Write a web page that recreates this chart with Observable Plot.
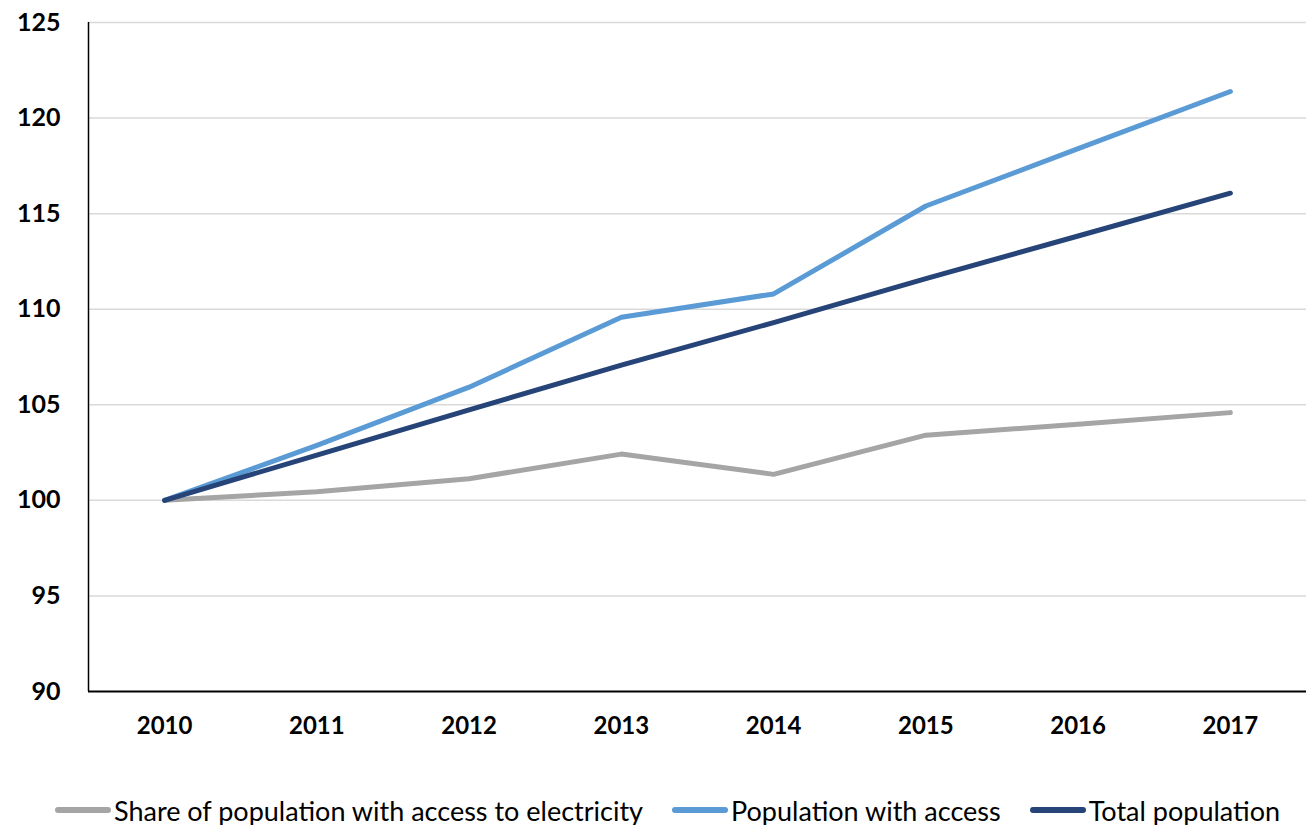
<!DOCTYPE html>
<html>
<head>
<meta charset="utf-8">
<script src="https://cdn.jsdelivr.net/npm/d3@7"></script>
<script src="https://cdn.jsdelivr.net/npm/@observablehq/plot@0.6"></script>
<style>
  html, body { margin: 0; padding: 0; background: #fff; }
  #chart svg { display: block; }
  #chart svg text { font-weight: 700; }
  .legend {
    display: flex; justify-content: flex-start; align-items: center;
    padding-left: 55px; margin-top: 30px; height: 40px; white-space: nowrap;
    font-family: Lato, "Open Sans", sans-serif; font-size: 27px; color: #000;
  }
  .legend .item { display: flex; align-items: center; margin-right: 29px; }
  .legend .swatch { width: 56px; height: 6px; border-radius: 3px; margin-right: 3px; }
</style>
</head>
<body>
<div id="chart"></div>
<script>
// Index, 2010 = 100
const years = [2010, 2011, 2012, 2013, 2014, 2015, 2016, 2017];
const shareWithAccess = [100, 100.45, 101.13, 102.42, 101.36, 103.41, 103.98, 104.59];
const populationWithAccess = [100, 102.88, 105.92, 109.58, 110.8, 115.4, 118.4, 121.39];
const totalPopulation = [100, 102.37, 104.73, 107.08, 109.3, 111.6, 113.83, 116.07];

const seriesNames = [
  "Share of population with access to electricity",
  "Population with access",
  "Total population"
];
const seriesValues = [shareWithAccess, populationWithAccess, totalPopulation];
const seriesColors = ["#a5a5a5", "#5b9bd5", "#264478"];
const yTicks = [90, 95, 100, 105, 110, 115, 120, 125];

const lineMarks = seriesValues.map((vals, i) =>
  Plot.line(years.map((yr, j) => ({year: yr, value: vals[j]})), {
    x: "year", y: "value",
    stroke: seriesColors[i], strokeWidth: 5,
    strokeLinecap: "round", strokeLinejoin: "round"
  })
);

const chart = Plot.plot({
  width: 1309,
  height: 760,
  marginLeft: 88,
  marginRight: 3,
  marginTop: 22,
  marginBottom: 69,
  style: {fontFamily: "Lato, 'Open Sans', sans-serif", fontSize: "24px", color: "#000", background: "#fff"},
  x: {domain: [2009.5, 2017.5]},
  y: {domain: [90, 125]},
  marks: [
    Plot.ruleY(yTicks.filter(v => v > 90), {stroke: "#d9d9d9", strokeWidth: 1.5}),
    Plot.axisY({ticks: yTicks, tickSize: 0, tickPadding: 28, label: null, fontSize: 25}),
    Plot.axisX({ticks: years, tickFormat: d => String(d), tickSize: 0, tickPadding: 25, label: null, fontSize: 24}),
    Plot.ruleY([90], {stroke: "#000", strokeWidth: 2}),
    Plot.ruleX([2009.5], {stroke: "#000", strokeWidth: 1.5}),
    ...lineMarks
  ]
});
document.getElementById("chart").appendChild(chart);

// Legend below the plot
const legend = document.createElement("div");
legend.className = "legend";
seriesNames.forEach((name, i) => {
  const item = document.createElement("div");
  item.className = "item";
  const sw = document.createElement("span");
  sw.className = "swatch";
  sw.style.background = seriesColors[i];
  const label = document.createElement("span");
  label.textContent = name;
  item.appendChild(sw);
  item.appendChild(label);
  legend.appendChild(item);
});
document.getElementById("chart").appendChild(legend);
</script>
</body>
</html>
